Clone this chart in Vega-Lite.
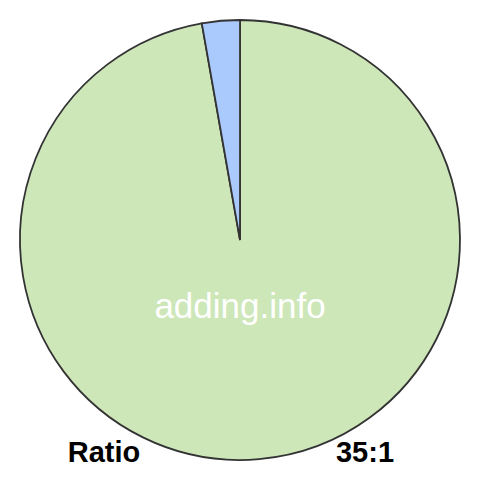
{
  "$schema": "https://vega.github.io/schema/vega-lite/v6.json",
  "width": 480,
  "height": 480,
  "autosize": {"type": "fit", "contains": "padding"},
  "padding": 0,
  "background": "white",
  "view": {"stroke": null},
  "datasets": {
    "parts": [
      {"part": "35", "value": 35, "ord": 1},
      {"part": "1", "value": 1, "ord": 2}
    ]
  },
  "layer": [
    {
      "data": {"name": "parts"},
      "mark": {"type": "arc", "radius": 220, "stroke": "#333333", "strokeWidth": 1.8},
      "encoding": {
        "theta": {"field": "value", "type": "quantitative", "stack": true},
        "order": {"field": "ord", "type": "quantitative"},
        "color": {
          "field": "part",
          "type": "nominal",
          "scale": {"domain": ["35", "1"], "range": ["#cde7b9", "#aac9fd"]},
          "legend": null
        }
      }
    },
    {
      "data": {"values": [{"label": "adding.info"}]},
      "mark": {"type": "text", "font": "Liberation Sans", "fontSize": 35, "color": "white", "align": "center", "baseline": "alphabetic"},
      "encoding": {
        "text": {"field": "label"},
        "x": {"value": 240},
        "y": {"value": 318}
      }
    },
    {
      "data": {"values": [{"label": "Ratio"}]},
      "mark": {"type": "text", "font": "Liberation Sans", "fontSize": 29, "fontWeight": "bold", "color": "black", "align": "center", "baseline": "alphabetic"},
      "encoding": {
        "text": {"field": "label"},
        "x": {"value": 104},
        "y": {"value": 462}
      }
    },
    {
      "data": {"values": [{"label": "35:1"}]},
      "mark": {"type": "text", "font": "Liberation Sans", "fontSize": 29, "fontWeight": "bold", "color": "black", "align": "center", "baseline": "alphabetic"},
      "encoding": {
        "text": {"field": "label"},
        "x": {"value": 365},
        "y": {"value": 462}
      }
    }
  ]
}
